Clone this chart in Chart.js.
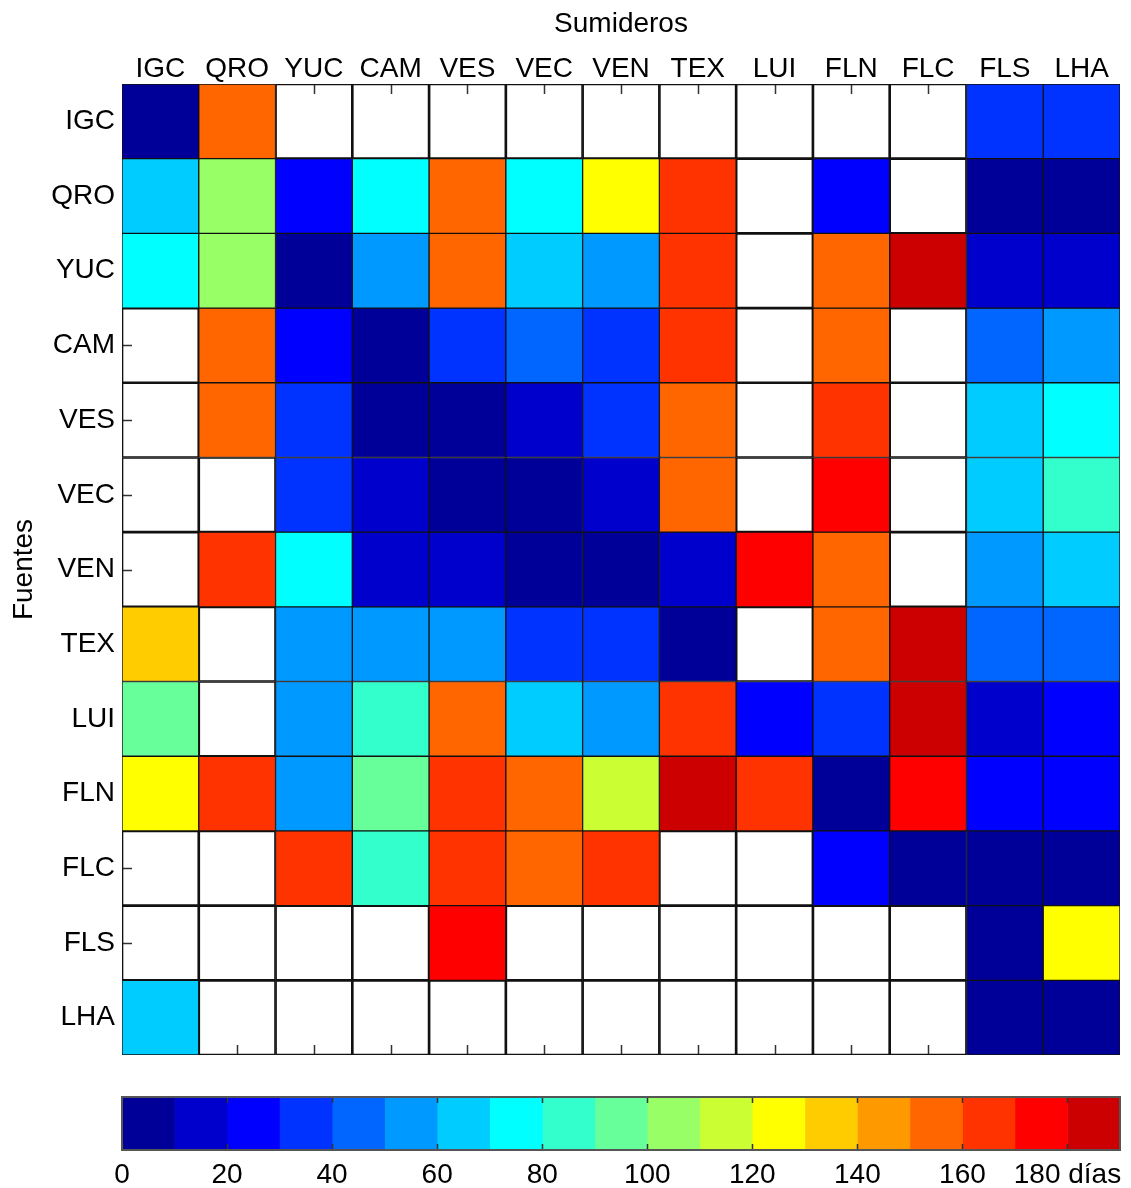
<!DOCTYPE html>
<html>
<head>
<meta charset="utf-8">
<script src="https://cdn.jsdelivr.net/npm/chart.js@4.4.1/dist/chart.umd.min.js"></script>
<style>
  body { margin: 0; background: #fff; }
  #wrap { position: relative; width: 1131px; height: 1188px; }
  #heat { position: absolute; left: 0; top: 0; }
  #bar { position: absolute; left: 0; top: 1078px; }
</style>
</head>
<body>
<div id="wrap">
  <canvas id="heat" width="1131" height="1070"></canvas>
  <canvas id="bar" width="1131" height="110"></canvas>
</div>
<script>
// sinks (columns) and sources (rows)
const sinks   = ["IGC", "QRO", "YUC", "CAM", "VES", "VEC", "VEN", "TEX", "LUI", "FLN", "FLC", "FLS", "LHA"];
const sources = ["IGC", "QRO", "YUC", "CAM", "VES", "VEC", "VEN", "TEX", "LUI", "FLN", "FLC", "FLS", "LHA"];

// days per source row, one value per sink, null = no connection
const rowIGC = [5, 155, null, null, null, null, null, null, null, null, null, 35, 35];
const rowQRO = [65, 105, 25, 75, 155, 75, 125, 165, null, 25, null, 5, 5];
const rowYUC = [75, 105, 5, 55, 155, 65, 55, 165, null, 155, 185, 15, 15];
const rowCAM = [null, 155, 25, 5, 35, 45, 35, 165, null, 155, null, 45, 55];
const rowVES = [null, 155, 35, 5, 5, 15, 35, 155, null, 165, null, 65, 75];
const rowVEC = [null, null, 35, 15, 5, 5, 15, 155, null, 175, null, 65, 85];
const rowVEN = [null, 165, 75, 15, 15, 5, 5, 15, 175, 155, null, 55, 65];
const rowTEX = [135, null, 55, 55, 55, 35, 35, 5, null, 155, 185, 45, 45];
const rowLUI = [95, null, 55, 85, 155, 65, 55, 165, 25, 35, 185, 15, 25];
const rowFLN = [125, 165, 55, 95, 165, 155, 115, 185, 165, 5, 175, 25, 25];
const rowFLC = [null, null, 165, 85, 165, 155, 165, null, null, 25, 5, 5, 5];
const rowFLS = [null, null, null, null, 175, null, null, null, null, null, null, 5, 125];
const rowLHA = [65, null, null, null, null, null, null, null, null, null, null, 5, 5];

// colour bar bins and labels
const colorbarEdges = [0, 10, 20, 30, 40, 50, 60, 70, 80, 90, 100, 110, 120, 130, 140, 150, 160, 170, 180, 190];
const colorbarTicks = [0, 20, 40, 60, 80, 100, 120, 140, 160, 180];
const unitLabel = "días";

// discrete jet colormap, one colour per bin
const jet = [
  "#000099", "#0000CC", "#0000FF", "#0033FF", "#0066FF", "#0099FF", "#00CCFF",
  "#00FFFF", "#33FFCC", "#66FF99", "#99FF66", "#CCFF33", "#FFFF00", "#FFCC00",
  "#FF9900", "#FF6600", "#FF3300", "#FF0000", "#CC0000"
];

const matrix = [rowIGC, rowQRO, rowYUC, rowCAM, rowVES, rowVEC, rowVEN, rowTEX, rowLUI, rowFLN, rowFLC, rowFLS, rowLHA];

function colorFor(v) {
  if (v === null) return "rgba(0,0,0,0)";
  for (let k = 0; k < colorbarEdges.length - 1; k++) {
    if (v >= colorbarEdges[k] && v < colorbarEdges[k + 1]) return jet[k];
  }
  return jet[jet.length - 1];
}

const font = { family: "'Liberation Sans', Arial, sans-serif", size: 28 };

// matlab style inward ticks, drawn under the cells so only show on empty ones
const innerTicks = {
  id: "innerTicks",
  beforeDatasetsDraw(chart) {
    const { ctx, chartArea: a, scales: { x, y } } = chart;
    ctx.save();
    ctx.strokeStyle = "#333";
    ctx.lineWidth = 1.5;
    ctx.beginPath();
    x.ticks.forEach((t, i) => {
      const px = Math.round(x.getPixelForTick(i)) + 0.5;
      ctx.moveTo(px, a.top); ctx.lineTo(px, a.top + 10);
      ctx.moveTo(px, a.bottom); ctx.lineTo(px, a.bottom - 10);
    });
    y.ticks.forEach((t, i) => {
      const py = Math.round(y.getPixelForTick(i)) + 0.5;
      ctx.moveTo(a.left, py); ctx.lineTo(a.left + 10, py);
      ctx.moveTo(a.right, py); ctx.lineTo(a.right - 10, py);
    });
    ctx.stroke();
    ctx.restore();
  }
};

new Chart(document.getElementById("heat"), {
  type: "bar",
  data: {
    labels: sinks,
    datasets: matrix.map((row, i) => ({
      label: sources[i],
      data: row.map(() => 1),
      backgroundColor: row.map(v => colorFor(v)),
      borderColor: "#111",
      borderWidth: 1,
      borderSkipped: false,
      barPercentage: 1,
      categoryPercentage: 1
    }))
  },
  options: {
    responsive: false,
    animation: false,
    layout: { padding: { left: 0, top: 0, right: 11, bottom: 15 } },
    plugins: { legend: { display: false }, tooltip: { enabled: false } },
    scales: {
      x: {
        position: "top",
        stacked: true,
        grid: { display: false, drawTicks: false },
        border: { display: false },
        ticks: { color: "#000", font: font, padding: -2, maxRotation: 0, autoSkip: false },
        title: { display: true, text: "Sumideros", color: "#000", font: font, padding: { top: 7, bottom: 0 } },
        afterFit: s => { s.height = 84; s.paddingLeft = 0; s.paddingRight = 0; }
      },
      y: {
        stacked: true,
        reverse: true,
        min: 0,
        max: sources.length,
        grid: { display: false, drawTicks: false },
        border: { display: false },
        afterBuildTicks: s => { s.ticks = sources.map((_, i) => ({ value: i + 0.5 })); },
        ticks: { color: "#000", font: font, padding: 7, autoSkip: false, callback: (v, i) => sources[i] },
        title: { display: true, text: "Fuentes", color: "#000", font: font, padding: { top: 7, bottom: 0 } },
        afterFit: s => { s.width = 122; s.paddingTop = 0; s.paddingBottom = 0; }
      }
    }
  },
  plugins: [innerTicks]
});

// colour bar frame and ticks on top of the colours
const barFrame = {
  id: "barFrame",
  afterDatasetsDraw(chart) {
    const { ctx, chartArea: a, scales: { x } } = chart;
    ctx.save();
    ctx.strokeStyle = "#333";
    ctx.lineWidth = 1.5;
    ctx.beginPath();
    colorbarTicks.forEach(v => {
      const px = Math.round(x.getPixelForValue(v)) + 0.5;
      ctx.moveTo(px, a.top); ctx.lineTo(px, a.top + 6);
      ctx.moveTo(px, a.bottom); ctx.lineTo(px, a.bottom - 6);
    });
    ctx.stroke();
    ctx.strokeStyle = "#555";
    ctx.lineWidth = 2;
    ctx.strokeRect(a.left, a.top, a.right - a.left, a.bottom - a.top);
    ctx.restore();
  }
};

new Chart(document.getElementById("bar"), {
  type: "bar",
  data: {
    labels: [""],
    datasets: jet.map((c, k) => ({
      data: [[colorbarEdges[k], colorbarEdges[k + 1]]],
      backgroundColor: c,
      borderWidth: 0,
      barPercentage: 1,
      categoryPercentage: 1,
      grouped: false
    }))
  },
  options: {
    indexAxis: "y",
    responsive: false,
    animation: false,
    layout: { padding: { left: 122, top: 19, right: 11, bottom: 0 } },
    plugins: { legend: { display: false }, tooltip: { enabled: false } },
    scales: {
      y: { display: false },
      x: {
        min: colorbarEdges[0],
        max: colorbarEdges[colorbarEdges.length - 1],
        grid: { display: false, drawTicks: false },
        border: { display: false },
        afterBuildTicks: s => { s.ticks = colorbarTicks.map(v => ({ value: v })); },
        ticks: {
          color: "#000", font: font, padding: 8, maxRotation: 0, autoSkip: false,
          callback: (v, i, t) => i === t.length - 1 ? v + " " + unitLabel : String(v)
        },
        afterFit: s => { s.height = 38; s.paddingLeft = 0; s.paddingRight = 0; }
      }
    }
  },
  plugins: [barFrame]
});
</script>
</body>
</html>
